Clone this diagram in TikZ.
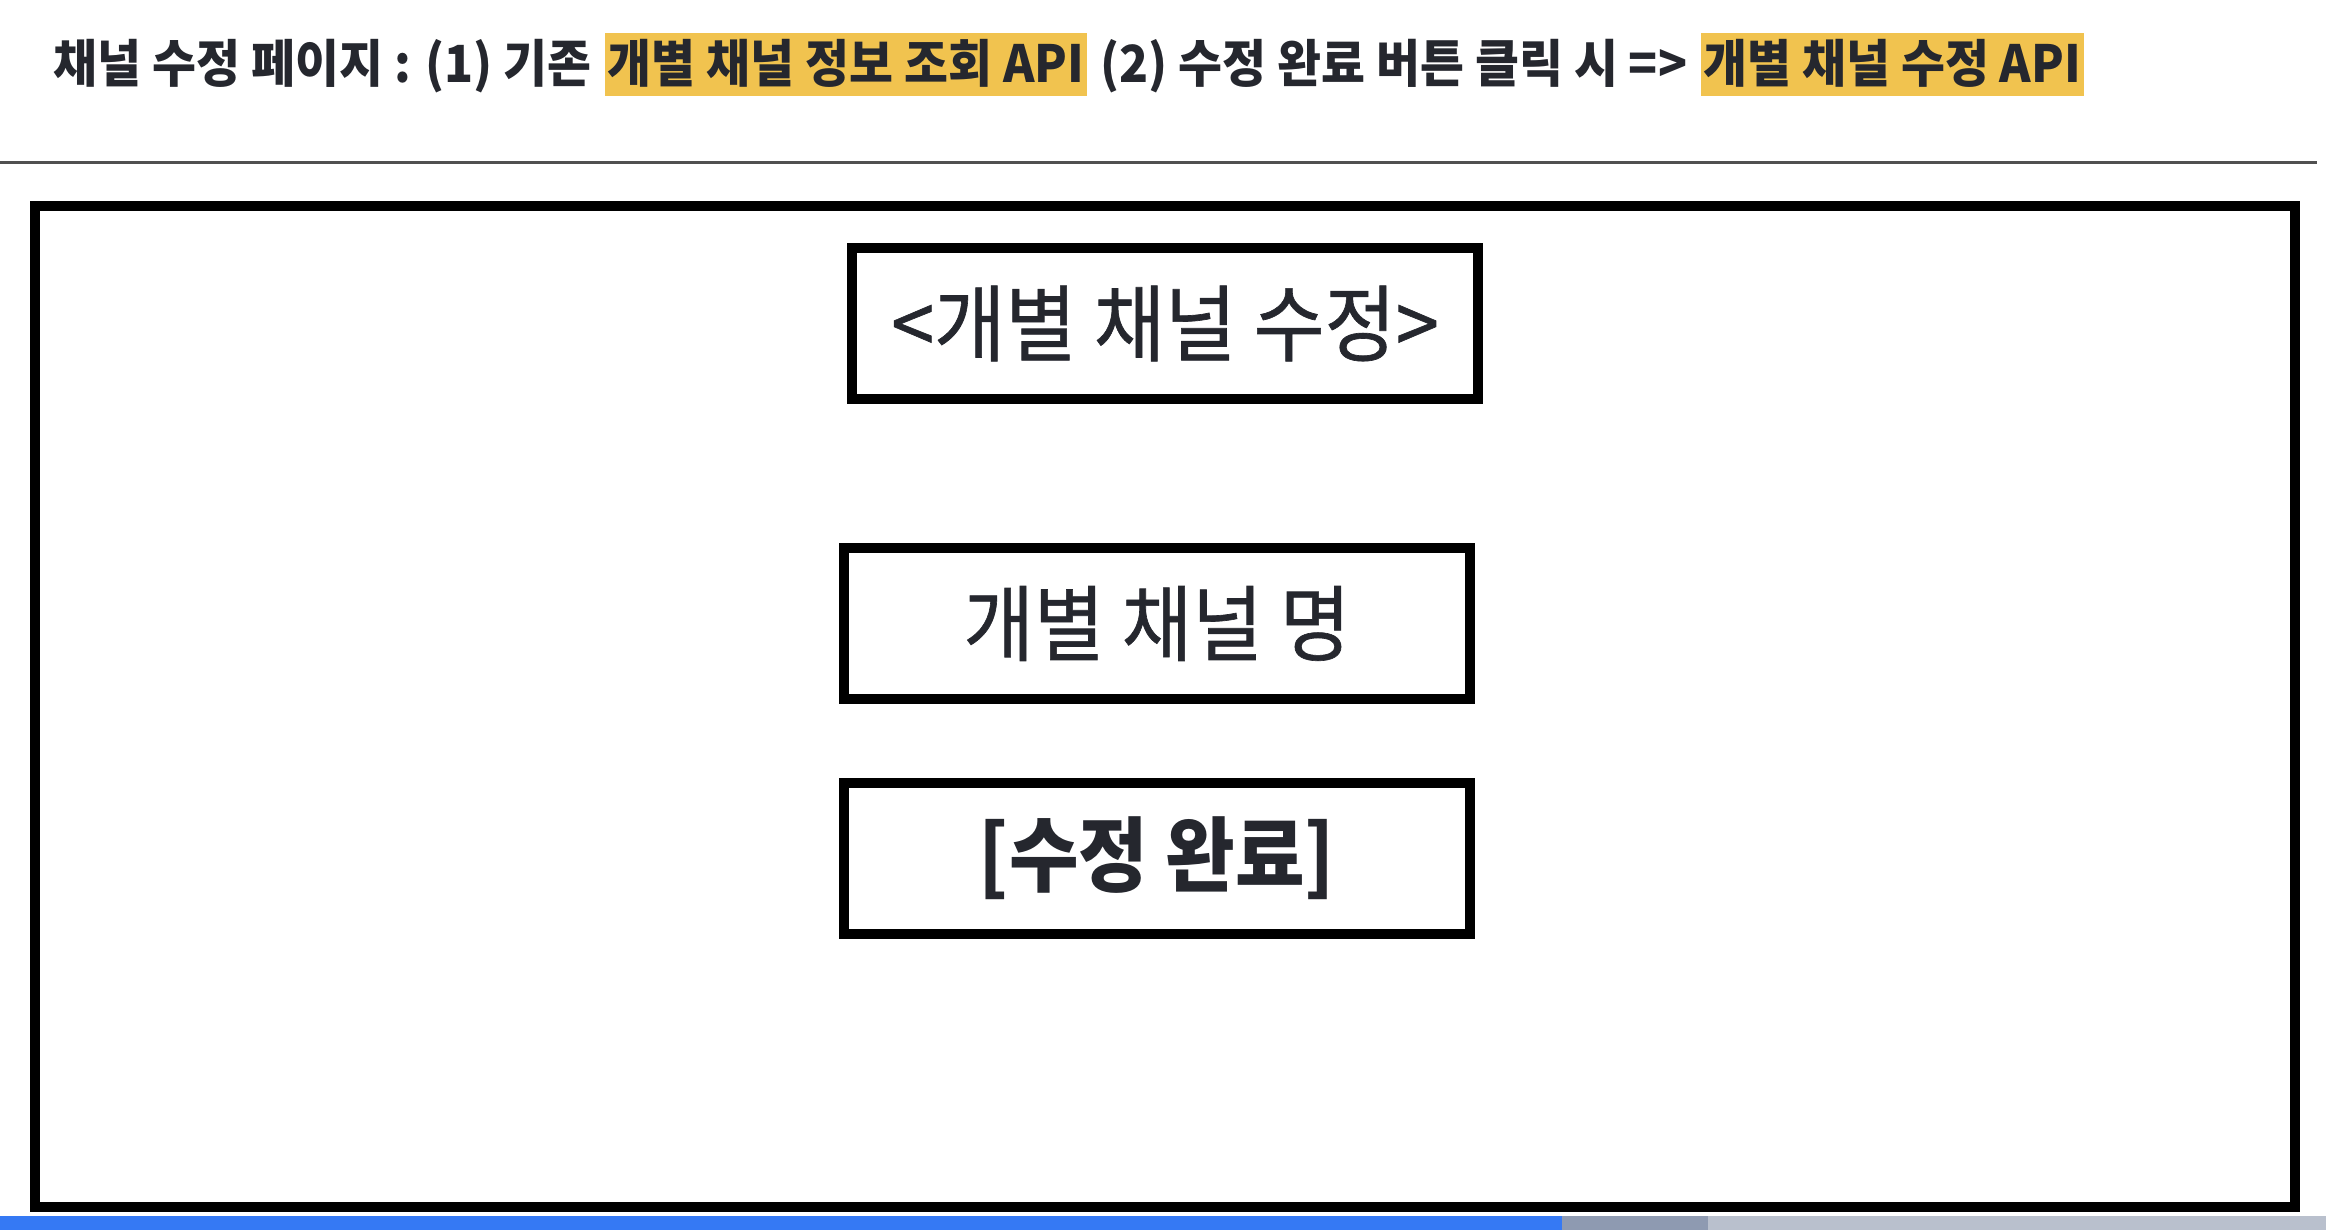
\documentclass[tikz,border=0pt]{standalone}
\usepackage{fontspec}
\newfontfamily\krfont{Noto Sans CJK KR}
\newfontfamily\krmid[FakeBold=0.8]{Noto Sans CJK KR}
\usetikzlibrary{positioning}

\definecolor{ink}{HTML}{25272E}
\definecolor{marker}{HTML}{F1C34F}
\definecolor{rulegray}{HTML}{505050}
\definecolor{barblue}{HTML}{3579F4}
\definecolor{bargray}{HTML}{8E9AB1}
\definecolor{barlight}{HTML}{B9C0CD}

% narrow title face, taller box labels
\newcommand{\ttltext}[1]{\scalebox{0.97}[1.04]{#1}}
\newcommand{\boxtext}[1]{\scalebox{1}[1.08]{#1}}

\begin{document}
\begin{tikzpicture}[x=0.01cm, y=-0.01cm,
  ttl/.style={font=\krfont\bfseries\fontsize{14pt}{16pt}\selectfont, text=ink,
    inner xsep=0pt, inner ysep=0pt, text height=0.49cm, text depth=0.14cm},
  hl/.style={ttl, fill=marker, inner xsep=0.03cm},
  panel/.style={draw=black, line width=0.1cm, inner sep=0pt, text=ink,
    minimum width=6.26cm, minimum height=1.51cm}]

  \useasboundingbox (0,0) rectangle (2326,1230);

  % Title line, API names highlighted
  \node[ttl, anchor=base west] (t1) at (53,82) {\ttltext{채널 수정 페이지 : (1) 기존}};
  \node[hl, base right=0.12cm of t1] (h1) {\ttltext{개별 채널 정보 조회 API}};
  \node[ttl, base right=0.12cm of h1] (t2) {\ttltext{(2) 수정 완료 버튼 클릭 시 =>}};
  \node[hl, base right=0.12cm of t2] (h2) {\ttltext{개별 채널 수정 API}};

  % Separator
  \draw[rulegray, line width=0.03cm] (0,162) -- (2317,162);

  % Page frame
  \draw[line width=0.1cm] (35,206) rectangle (2295,1207);

  % Page contents
  \node[panel, font=\krmid\fontsize{22pt}{26pt}\selectfont] (head) at (1165,323.5) {\boxtext{<개별 채널 수정>}};
  \node[panel, font=\krmid\fontsize{21.8pt}{26pt}\selectfont] (name) at (1157,623.5) {\boxtext{개별 채널 명}};
  \node[panel, font=\krfont\bfseries\fontsize{21.5pt}{26pt}\selectfont] (done) at (1157,858.5) {\boxtext{[수정 완료]}};

  % Progress bar
  \fill[barblue] (0,1216) rectangle (1562,1230);
  \fill[bargray] (1562,1216) rectangle (1708,1230);
  \fill[barlight] (1708,1216) rectangle (2326,1230);
\end{tikzpicture}
\end{document}
